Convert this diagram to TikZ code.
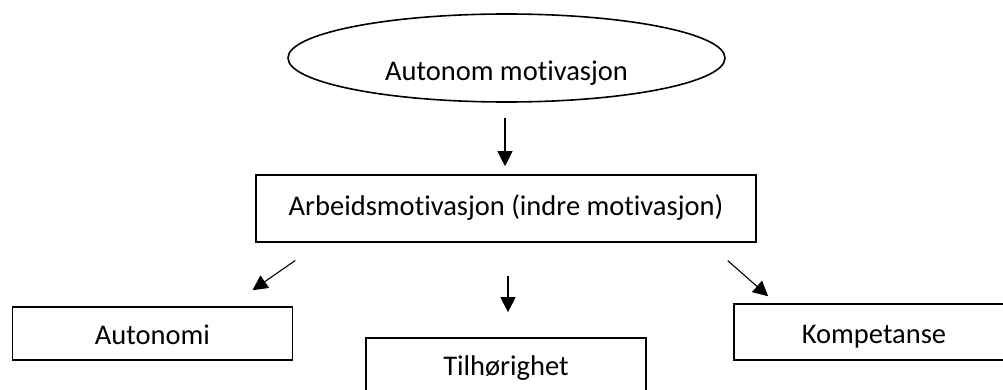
\documentclass[tikz,border=0pt]{standalone}
\usepackage{fontspec}
\setmainfont{Carlito}[Ligatures=NoCommon]
\usetikzlibrary{shapes.geometric,arrows.meta}

\begin{document}
\begin{tikzpicture}[x=1pt,y=-1pt,
        box/.style={draw,line width=1.6pt,inner sep=0pt,font=\fontsize{28.5}{34}\selectfont,minimum width=280pt,minimum height=53pt,text height=28pt,text depth=6pt},
        arr/.style={line width=1.1pt,-{Triangle[length=15pt,width=15pt]}}]
        \useasboundingbox (0,0) rectangle (1003,390);

        \node[ellipse,draw,line width=1.6pt,inner sep=0pt,minimum width=437pt,minimum height=88pt,text height=46pt,text depth=0pt,font=\fontsize{28.5}{34}\selectfont] (motiv) at (506.5,58) {Autonom motivasjon};
        \node[box,minimum width=500pt,minimum height=67pt,text height=28pt,text depth=15pt] (arbeid) at (506,208.5) {Arbeidsmotivasjon (indre motivasjon)\hspace{21pt}};
        \node[box] (autonomi) at (152.5,333.5) {Autonomi};
        \node[box] (tilhor) at (506,364.5) {Tilhørighet};
        \node[box,minimum height=56pt] (kompet) at (874,332) {Kompetanse};

        \draw[arr,shorten <=15pt,shorten >=8pt] ([xshift=-1.5pt]motiv.south) -- ([xshift=-1.5pt]motiv.south |- arbeid.north);
        \draw[arr,shorten <=31pt,shorten >=28pt] ([xshift=65.5pt]arbeid.south west) -- ([xshift=77pt]autonomi.north);
        \draw[arr,shorten <=33pt,shorten >=25pt] ([xshift=2pt]arbeid.south) -- ([xshift=2pt]tilhor.north);
        \draw[arr,shorten <=27pt,shorten >=10.5pt] ([xshift=-49.4pt]arbeid.south east) -- ([xshift=42.9pt]kompet.north west);

    \end{tikzpicture}
\end{document}
